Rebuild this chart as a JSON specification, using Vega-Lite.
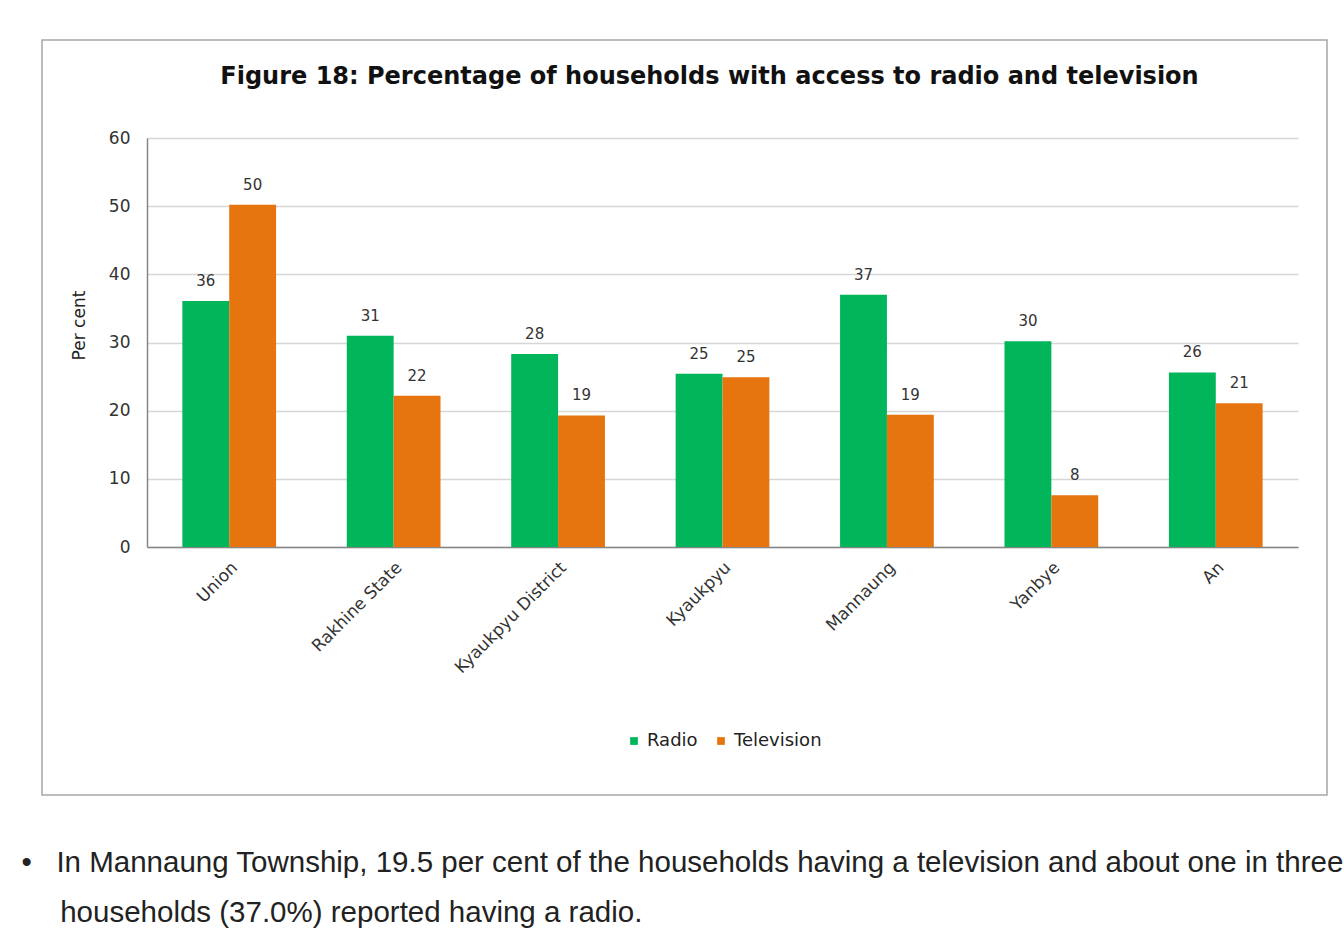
{
  "$schema": "https://vega.github.io/schema/vega-lite/v6.json",
  "autosize": {"type": "none"},
  "width": 1285,
  "height": 755,
  "padding": {"left": 42, "top": 40, "right": 17, "bottom": 144},
  "background": "white",
  "title": {
    "text": "Figure 18: Percentage of households with access to radio and television",
    "font": "DejaVu Sans",
    "fontSize": 24,
    "fontWeight": "bold",
    "color": "#111111",
    "anchor": "middle",
    "frame": "group",
    "offset": 0,
    "dx": 25,
    "dy": 49
  },
  "data": {
    "values": [
      {"area": "Union", "type": "Radio", "value": 36.1},
      {"area": "Union", "type": "Television", "value": 50.2},
      {"area": "Rakhine State", "type": "Radio", "value": 31.0},
      {"area": "Rakhine State", "type": "Television", "value": 22.2},
      {"area": "Kyaukpyu District", "type": "Radio", "value": 28.3},
      {"area": "Kyaukpyu District", "type": "Television", "value": 19.3},
      {"area": "Kyaukpyu", "type": "Radio", "value": 25.4},
      {"area": "Kyaukpyu", "type": "Television", "value": 24.9},
      {"area": "Mannaung", "type": "Radio", "value": 37.0},
      {"area": "Mannaung", "type": "Television", "value": 19.4},
      {"area": "Yanbye", "type": "Radio", "value": 30.2},
      {"area": "Yanbye", "type": "Television", "value": 7.6},
      {"area": "An", "type": "Radio", "value": 25.6},
      {"area": "An", "type": "Television", "value": 21.1}
    ]
  },
  "encoding": {
    "x": {
      "field": "area",
      "type": "nominal",
      "sort": null,
      "scale": {"range": [105, 1256], "paddingInner": 0.43, "paddingOuter": 0.215},
      "axis": {
        "offset": -248,
        "labelAngle": -45,
        "labelFont": "DejaVu Sans",
        "labelFontSize": 17,
        "labelColor": "#333333",
        "labelPadding": 12,
        "ticks": false,
        "domainColor": "#868686",
        "domainWidth": 1.5,
        "title": [
          "•\u00a0\u00a0\u00a0In Mannaung Township, 19.5 per cent of the households having a television and about one in three",
          "\u200b\u00a0\u00a0\u00a0\u00a0\u2009households (37.0%) reported having a radio."
        ],
        "titleFont": "Liberation Sans",
        "titleFontSize": 29.5,
        "titleFontWeight": "normal",
        "titleColor": "#222222",
        "titleAnchor": "start",
        "titleAlign": "left",
        "titleBaseline": "alphabetic",
        "titleLineHeight": 50,
        "titleX": -21,
        "titleY": 324
      }
    },
    "y": {
      "field": "value",
      "type": "quantitative",
      "scale": {"domain": [0, 60], "range": [507, 98]},
      "axis": {
        "offset": -105,
        "values": [0, 10, 20, 30, 40, 50, 60],
        "labelFont": "DejaVu Sans",
        "labelFontSize": 17,
        "labelColor": "#333333",
        "labelPadding": 17,
        "ticks": false,
        "domainColor": "#868686",
        "domainWidth": 1.5,
        "gridColor": "#d6d6d6",
        "gridWidth": 1.5,
        "title": "Per cent",
        "titleFont": "DejaVu Sans",
        "titleFontSize": 17,
        "titleFontWeight": "normal",
        "titleColor": "#222222",
        "titlePadding": 20,
        "titleY": 285
      }
    },
    "xOffset": {"field": "type", "type": "nominal", "scale": {"paddingInner": 0, "paddingOuter": 0}},
    "color": {
      "field": "type",
      "type": "nominal",
      "scale": {"domain": ["Radio", "Television"], "range": ["#00B55A", "#E6750F"]},
      "legend": {
        "orient": "none",
        "direction": "horizontal",
        "legendX": 583,
        "legendY": 692,
        "title": null,
        "symbolType": "square",
        "symbolSize": 60,
        "symbolStrokeWidth": 0,
        "labelFont": "DejaVu Sans",
        "labelFontSize": 18,
        "labelColor": "#222222",
        "labelOffset": 4,
        "columnPadding": 14
      }
    }
  },
  "layer": [
    {"mark": {"type": "bar"}},
    {
      "mark": {"type": "text", "baseline": "bottom", "dy": -12, "font": "DejaVu Sans", "fontSize": 15},
      "encoding": {
        "text": {"field": "value", "type": "quantitative", "format": ".0f"},
        "color": {"value": "#333333"}
      }
    }
  ],
  "config": {
    "view": {"stroke": "#a6a6a6", "strokeWidth": 1.5}
  }
}
